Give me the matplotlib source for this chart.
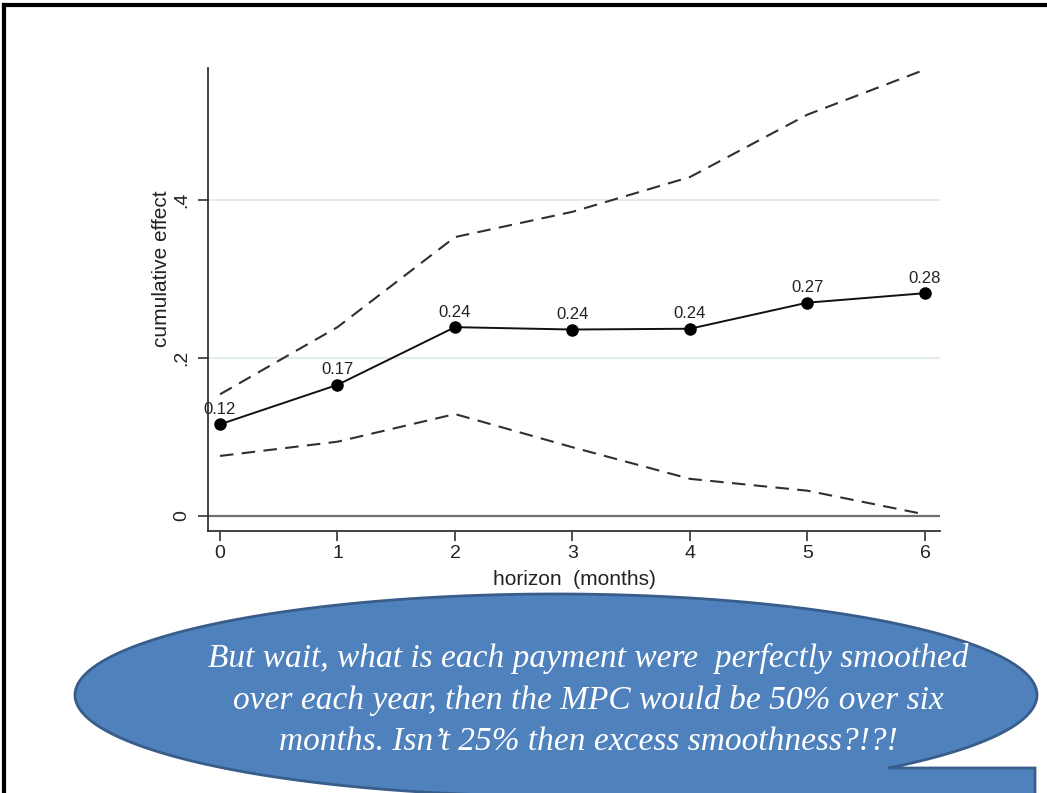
import numpy as np
import matplotlib
matplotlib.use("Agg")
import matplotlib.pyplot as plt
from matplotlib.path import Path
from matplotlib.patches import PathPatch
from matplotlib.lines import Line2D

# Cumulative effect by horizon with confidence band
horizon = [0, 1, 2, 3, 4, 5, 6]
effect = [0.116, 0.166, 0.239, 0.236, 0.237, 0.270, 0.282]
upper = [0.154, 0.239, 0.353, 0.385, 0.429, 0.508, 0.565]
lower = [0.076, 0.094, 0.129, 0.087, 0.047, 0.032, 0.002]
ytick_vals = [0, 0.2, 0.4]
ytick_text = ["0", ".2", ".4"]

callout_lines = [
    "But wait, what is each payment were  perfectly smoothed",
    "over each year, then the MPC would be 50% over six",
    "months. Isn\u2019t 25% then excess smoothness?!?!",
]

W, H = 1047, 793
fig = plt.figure(figsize=(W / 100, H / 100), dpi=100)
fig.patch.set_facecolor("white")

sans = ["Liberation Sans", "DejaVu Sans"]

# ---- chart ----
ax = fig.add_axes([208 / W, 1 - 531 / H, 732 / W, 463 / H])
ax.set_xlim(-0.102, 6.128)
ax.set_ylim(-0.019, 0.567)

for v in ytick_vals[1:]:
    ax.axhline(v, color="#e4ecef", lw=1.5, zorder=0)
ax.axhline(0, color="#707070", lw=1.6, zorder=1)

ax.plot(horizon, upper, color="#303030", lw=1.5, ls=(0, (6.5, 4)), zorder=2)
ax.plot(horizon, lower, color="#303030", lw=1.5, ls=(0, (6.5, 4)), zorder=2)
ax.plot(horizon, effect, color="#111111", lw=1.4, marker="o", ms=8,
        mfc="black", mec="black", zorder=3)
for x, y in zip(horizon, effect):
    ax.annotate(f"{y:.2f}", (x, y), xytext=(0, 5.5), textcoords="offset points",
                ha="center", va="bottom", fontsize=12, color="#222222",
                family=sans)

for side in ["top", "right"]:
    ax.spines[side].set_visible(False)
for side in ["left", "bottom"]:
    ax.spines[side].set_color("#333333")
    ax.spines[side].set_linewidth(1.3)

ax.set_xticks(horizon)
ax.set_xticklabels([str(h) for h in horizon], family=sans, fontsize=14)
ax.set_yticks(ytick_vals)
ax.set_yticklabels(ytick_text, family=sans, fontsize=14, rotation=90,
                   va="center")
ax.tick_params(axis="both", direction="out", length=7, width=1.2,
               color="#333333", labelcolor="#222222")
ax.tick_params(axis="x", pad=3)
ax.tick_params(axis="y", pad=6)

ax.set_xlabel("horizon  (months)", family=sans, fontsize=15,
              color="#222222")
ax.xaxis.set_label_coords(0.5, -0.085)
ax.set_ylabel("cumulative effect", family=sans, fontsize=15,
              color="#222222")
ax.yaxis.set_label_coords(-0.05, 0.566)

# ---- overlay in pixel coordinates: slide frame and callout ----
ov = fig.add_axes([0, 0, 1, 1], zorder=5)
ov.set_xlim(0, W)
ov.set_ylim(H, 0)
ov.axis("off")
ov.patch.set_alpha(0)

ov.add_line(Line2D([4, W], [5, 5], color="black", lw=3))
ov.add_line(Line2D([4, 4], [5, H], color="black", lw=3))

cx, cy, a, b = 556, 695, 481, 101
t1 = np.arcsin((768 - cy) / b)
t = np.linspace(t1, np.pi / 2 - 2 * np.pi, 400)
ex = cx + a * np.cos(t)
ey = cy + b * np.sin(t)
verts = list(zip(ex, ey)) + [(1035, 860), (1035, 768), (ex[0], ey[0])]
codes = [Path.MOVETO] + [Path.LINETO] * (len(verts) - 2) + [Path.CLOSEPOLY]
ov.add_patch(PathPatch(Path(verts, codes), facecolor="#4f81bd",
                       edgecolor="#385d8a", lw=2, joinstyle="miter"))

for i, line in enumerate(callout_lines):
    ov.text(588, 658 + i * 42, line, ha="center", va="center",
            fontsize=24, style="italic", color="white",
            family=["Liberation Serif", "DejaVu Serif"])

fig.savefig("out.png", dpi=100)
